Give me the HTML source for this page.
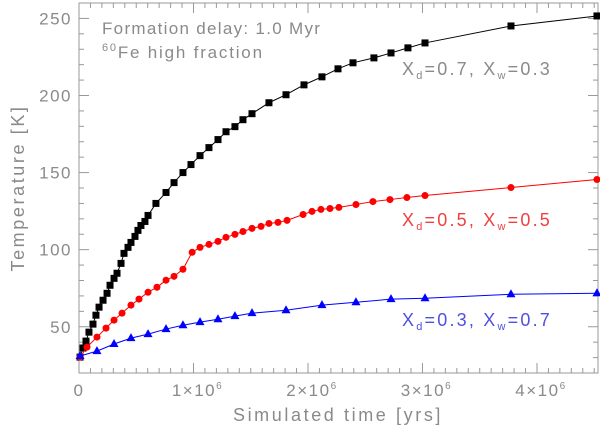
<!DOCTYPE html>
<html><head><meta charset="utf-8"><style>
html,body{margin:0;padding:0;background:#fff;}
svg text{font-family:"Liberation Sans",sans-serif;fill:#8a8a8a;}
</style></head><body>
<svg id="chart" width="600" height="432" viewBox="0 0 600 432" xmlns="http://www.w3.org/2000/svg"></svg>
<script>
const xTickVals=[0,1,2,3,4];
const xTickLabels=["0","1×10","2×10","3×10","4×10"];
const yTickVals=[50,100,150,200,250];
const tBlack=[0.009,0.035,0.061,0.087,0.122,0.148,0.175,0.21,0.245,0.271,0.306,0.332,0.367,0.393,0.428,0.454,0.489,0.515,0.541,0.576,0.603,0.672,0.76,0.83,0.908,0.978,1.057,1.135,1.214,1.284,1.362,1.432,1.511,1.659,1.808,1.965,2.122,2.262,2.393,2.576,2.725,2.873,3.022,3.773,4.524];
const vBlack=[30.3,36.2,40.7,46.5,51.7,57.5,62.7,67.2,71.7,76.9,81.4,84.7,91.1,97.6,101.5,104.7,108.6,112.5,115.7,118.3,122.2,130,137.1,143.5,150,155.2,161,166.2,171.4,176.5,179.8,184.3,188.2,195.3,200.5,206.9,212.1,217.3,221.2,224.4,227.6,230.9,234.1,245.1,251.6];
const tRed=[0.009,0.07,0.157,0.236,0.306,0.376,0.454,0.524,0.603,0.681,0.76,0.83,0.908,0.988,1.057,1.135,1.214,1.284,1.362,1.432,1.511,1.59,1.659,1.738,1.817,1.957,2.035,2.113,2.192,2.27,2.419,2.567,2.716,2.864,3.022,3.773,4.524];
const vRed=[30.3,36.8,43.3,49.1,54.3,58.8,64,67.9,72.4,75.6,80.2,82.7,87.3,98.3,101.5,103.4,105.4,108,109.9,111.8,113.8,115.1,117,117.7,119,122.8,124.8,126.1,126.7,127.4,129.3,131.2,132.5,133.8,135.1,140.3,145.5];
const tBlue=[0.009,0.157,0.306,0.454,0.603,0.76,0.908,1.057,1.214,1.362,1.511,1.808,2.122,2.419,2.725,3.022,3.773,4.524];
const vBlue=[31,34.2,38.8,42.6,45.2,48.5,51,53,54.9,56.9,58.8,60.7,64,65.9,67.9,68.5,71.1,71.7];

const L=79,R=598,T=3,B=373,XMAX=4.533,YMIN=20,YMAX=260;
const X=t=>L+t/XMAX*(R-L);
const Y=v=>B-(v-YMIN)/(YMAX-YMIN)*(B-T);
const svg=document.getElementById('chart');
const NS='http://www.w3.org/2000/svg';
function mk(tag,attrs,parent){const e=document.createElementNS(NS,tag);for(const k in attrs)e.setAttribute(k,attrs[k]);(parent||svg).appendChild(e);return e;}

const frame=mk('rect',{x:L,y:T,width:R-L,height:B-T,fill:'none',stroke:'#999','stroke-width':1});


const ticks=mk('g',{stroke:'#999','stroke-width':1});


for(let i=0;i<=45;i++){const t=i/10;const x=X(t);const len=(i%10===0)?10:5;
 mk('line',{x1:x,y1:B,x2:x,y2:B-len},ticks);mk('line',{x1:x,y1:T,x2:x,y2:T+len},ticks);}
for(let v=20;v<=260;v+=10){const y=Y(v);const len=(v%50===0)?10:5;
 mk('line',{x1:L,y1:y,x2:L+len,y2:y},ticks);mk('line',{x1:R,y1:y,x2:R-len,y2:y},ticks);}
xTickVals.forEach((t,i)=>{const tx=mk('text',{x:X(t)+(i>0?4:0),y:396,'font-size':17,'text-anchor':'middle','letter-spacing':1.5});
 
 
 tx.textContent=xTickLabels[i];
 if(i>0){const s=mk('tspan',{dy:-7,'font-size':10},tx);s.textContent='6';}});
yTickVals.forEach(v=>{const tx=mk('text',{x:72,y:Y(v)+6,'font-size':17,'text-anchor':'end','letter-spacing':1.5});
 
 
 tx.textContent=v;});
const xt=mk('text',{x:338,y:421,'font-size':18,'text-anchor':'middle','letter-spacing':2.6});


xt.textContent='Simulated time [yrs]';
const yt=mk('text',{x:0,y:0,'font-size':18,'text-anchor':'middle','letter-spacing':2.6,transform:'translate(24,188) rotate(-90)'});


yt.textContent='Temperature [K]';
const a1=mk('text',{x:102,y:34,'font-size':17,'letter-spacing':1.3});


a1.textContent='Formation delay: 1.0 Myr';
const a2=mk('text',{x:102,y:58,'font-size':17,'letter-spacing':1.8});


const sp=mk('tspan',{'font-size':11,dy:-7},a2);sp.textContent='60';
const sp2=mk('tspan',{dy:7},a2);sp2.textContent='Fe high fraction';

function series(ts,vs,color,shape,name,label,ly){
 const g=mk('g',{});
 
 
 const pts=ts.map((t,i)=>X(t)+','+Y(vs[i])).join(' ');
 mk('polyline',{points:pts,fill:'none',stroke:color,'stroke-width':1},g);
 ts.forEach((t,i)=>{const x=X(t),y=Y(vs[i]);let m;
  if(shape==='sq')m=mk('rect',{x:x-3.5,y:y-3.5,width:7,height:7,fill:color},g);
  else if(shape==='ci')m=mk('circle',{cx:x,cy:y,r:3.5,fill:color},g);
  else m=mk('polygon',{points:`${x},${y-5} ${x-4.5},${y+3} ${x+4.5},${y+3}`,fill:color},g);
  
  });
 const tx=mk('text',{x:402,y:ly,'font-size':18,'letter-spacing':2.2,style:'fill:'+label[2]});
 
 
 const parts=[['X',0,18],['d',4,11],['=0.'+label[0]+',  X',-4,18],['w',4,11],['=0.'+label[1],-4,18]];
 parts.forEach(p=>{const s=mk('tspan',{dy:p[1],'font-size':p[2]},tx);s.textContent=p[0];});
}
series(tBlack,vBlack,'#000','sq','series-xd07',['7','3','#8a8a8a'],75);
series(tRed,vRed,'#f00','ci','series-xd05',['5','5','#f04040'],226);
series(tBlue,vBlue,'#0000ff','tri','series-xd03',['3','7','#5050e0'],326);
</script>
</body></html>
